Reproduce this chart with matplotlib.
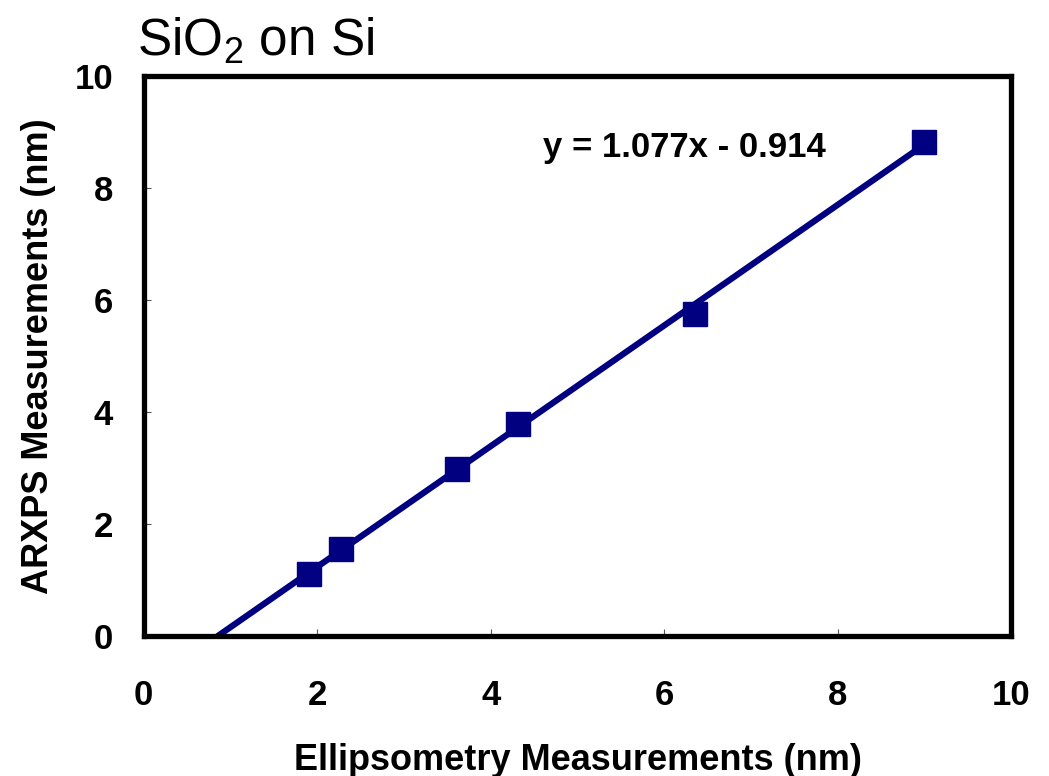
import numpy as np
import matplotlib
matplotlib.use("Agg")
import matplotlib.pyplot as plt

plt.rcParams['font.family'] = ['Liberation Sans', 'DejaVu Sans']
plt.rcParams['mathtext.fontset'] = 'custom'
plt.rcParams['mathtext.rm'] = 'Liberation Sans'
plt.rcParams['mathtext.it'] = 'Liberation Sans'

# ellipsometry vs ARXPS oxide thickness (nm)
ellipsometry = [1.90, 2.27, 3.61, 4.31, 6.35, 9.00]
arxps = [1.12, 1.55, 2.98, 3.79, 5.76, 8.82]
slope = 1.077
intercept = -0.914

fig = plt.figure(figsize=(10.49, 7.76), dpi=100)
ax = fig.add_axes([0.137, 0.18, 0.827, 0.722])

navy = '#000080'
x_fit = np.array([-intercept / slope, max(ellipsometry)])
ax.plot(x_fit, slope * x_fit + intercept, color=navy, lw=4.5, solid_capstyle='butt', zorder=2)
ax.plot(ellipsometry, arxps, 's', color=navy, ms=17, zorder=3)

ax.set_xlim(0, 10)
ax.set_ylim(0, 10)
ax.set_xticks(range(0, 11, 2))
ax.set_yticks(range(0, 11, 2))
for s in ax.spines.values():
    s.set_linewidth(3.8)
ax.tick_params(direction='in', length=5, width=0.8, color='#555555', labelsize=25)
for lbl in ax.get_xticklabels() + ax.get_yticklabels():
    lbl.set_fontweight('bold')
ax.tick_params(axis='x', pad=31)
ax.tick_params(axis='y', pad=22)

ax.set_xlabel('Ellipsometry Measurements (nm)', fontsize=26, fontweight='bold', labelpad=22)
ax.set_ylabel('ARXPS Measurements (nm)', fontsize=26, fontweight='bold', labelpad=13)

ax.text(4.6, 8.72, 'y = 1.077x - 0.914', fontsize=25, fontweight='bold', va='center')
fig.text(0.131, 0.947, r'SiO$_{\rm 2}$ on Si', fontsize=37, va='center')

fig.savefig('out.png', dpi=100, facecolor='white')
